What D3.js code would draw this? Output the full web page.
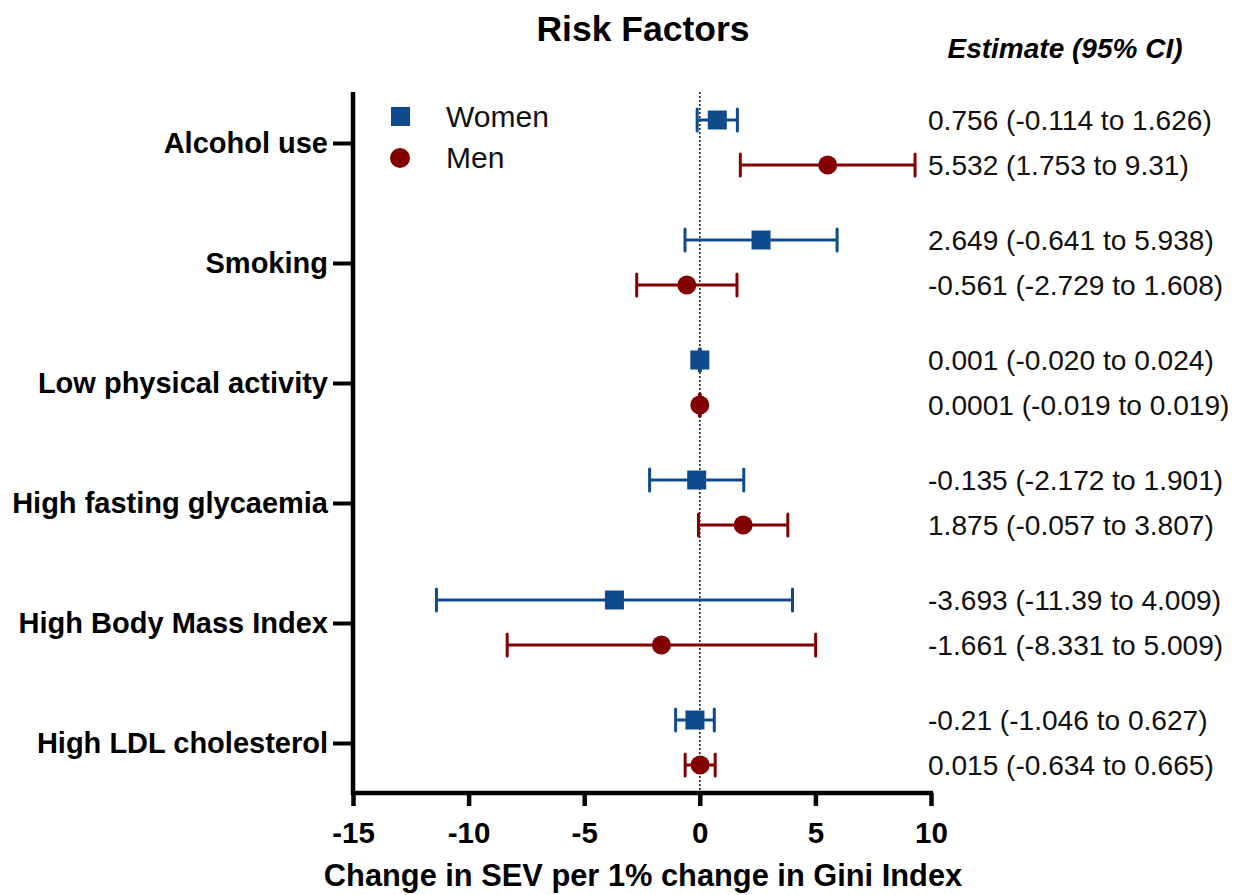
<!DOCTYPE html>
<html><head><meta charset="utf-8">
<script src="https://cdn.jsdelivr.net/npm/d3@7"></script>
<style>body{margin:0;background:#fff}svg{display:block}text{font-family:"Liberation Sans",Arial,sans-serif}</style>
</head><body><svg id="c" width="1235" height="895"></svg>
<script>
const categories=["Alcohol use","Smoking","Low physical activity","High fasting glycaemia","High Body Mass Index","High LDL cholesterol"];
const womenEst=[0.756,2.649,0.001,-0.135,-3.693,-0.21];
const womenLo=[-0.114,-0.641,-0.020,-2.172,-11.39,-1.046];
const womenHi=[1.626,5.938,0.024,1.901,4.009,0.627];
const menEst=[5.532,-0.561,0.0001,1.875,-1.661,0.015];
const menLo=[1.753,-2.729,-0.019,-0.057,-8.331,-0.634];
const menHi=[9.31,1.608,0.019,3.807,5.009,0.665];
const womenLabels=["0.756 (-0.114 to 1.626)","2.649 (-0.641 to 5.938)","0.001 (-0.020 to 0.024)","-0.135 (-2.172 to 1.901)","-3.693 (-11.39 to 4.009)","-0.21 (-1.046 to 0.627)"];
const menLabels=["5.532 (1.753 to 9.31)","-0.561 (-2.729 to 1.608)","0.0001 (-0.019 to 0.019)","1.875 (-0.057 to 3.807)","-1.661 (-8.331 to 5.009)","0.015 (-0.634 to 0.665)"];
const xTicks=[-15,-10,-5,0,5,10];
const xTickLabels=["-15","-10","-5","0","5","10"];
const seriesNames=["Women","Men"];

const svg=d3.select("#c");
const x=d3.scaleLinear().domain([-15,10]).range([353,931]);
const y=d3.scalePoint().domain(categories).range([83,803]).padding(0.5);
const off={Women:-23,Men:22};
const col={Women:"#0e4a8c",Men:"#820000"};
const plotTop=92,plotBottom=793;

svg.append("text").attr("x",643).attr("y",41).attr("text-anchor","middle").attr("font-size",35.5).attr("font-weight","bold").text("Risk Factors");
svg.append("text").attr("x",1065).attr("y",58).attr("text-anchor","middle").attr("font-size",28).attr("font-weight","bold").attr("font-style","italic").text("Estimate (95% CI)");

svg.append("line").attr("x1",x(0)).attr("x2",x(0)).attr("y1",plotTop).attr("y2",plotBottom).attr("stroke","#222").attr("stroke-width",1.6).attr("stroke-dasharray","2,2");

const ya=svg.append("g").attr("transform",`translate(${x(-15)},0)`).call(d3.axisLeft(y).tickSize(20).tickPadding(5));
ya.select(".domain").remove();
ya.selectAll(".tick line").attr("stroke","#000").attr("stroke-width",4);
ya.selectAll(".tick text").attr("font-size",29).attr("font-weight","bold").attr("fill","#000").attr("font-family","'Liberation Sans',Arial,sans-serif");
svg.append("line").attr("x1",x(-15)).attr("x2",x(-15)).attr("y1",plotTop).attr("y2",plotBottom+2).attr("stroke","#000").attr("stroke-width",4.5);

const xa=svg.append("g").attr("transform",`translate(0,${plotBottom})`).call(d3.axisBottom(x).tickValues(xTicks).tickFormat((d,i)=>xTickLabels[i]).tickSize(13).tickPadding(16).tickSizeOuter(0));
xa.select(".domain").remove();
xa.selectAll(".tick line").attr("stroke","#000").attr("stroke-width",4.5);
xa.selectAll(".tick text").attr("font-size",29.5).attr("font-weight","bold").attr("fill","#000").attr("font-family","'Liberation Sans',Arial,sans-serif");
svg.append("line").attr("x1",x(-15)-2).attr("x2",x(10)+2).attr("y1",plotBottom).attr("y2",plotBottom).attr("stroke","#000").attr("stroke-width",4.5);

svg.append("text").attr("x",643).attr("y",886).attr("text-anchor","middle").attr("font-size",30.8).attr("font-weight","bold").text("Change in SEV per 1% change in Gini Index");

const rows=[];
categories.forEach((c,i)=>{
  rows.push({s:"Women",c,e:womenEst[i],lo:womenLo[i],hi:womenHi[i],lab:womenLabels[i]});
  rows.push({s:"Men",c,e:menEst[i],lo:menLo[i],hi:menHi[i],lab:menLabels[i]});
});
const g=svg.append("g");
const cap=11;
rows.forEach(r=>{
  const yy=y(r.c)+off[r.s];
  const gg=g.append("g").attr("stroke",col[r.s]).attr("stroke-width",3);
  gg.append("line").attr("x1",x(r.lo)).attr("x2",x(r.hi)).attr("y1",yy).attr("y2",yy);
  gg.append("line").attr("x1",x(r.lo)).attr("x2",x(r.lo)).attr("y1",yy-cap).attr("y2",yy+cap).attr("stroke-linecap","round");
  gg.append("line").attr("x1",x(r.hi)).attr("x2",x(r.hi)).attr("y1",yy-cap).attr("y2",yy+cap).attr("stroke-linecap","round");
  if(r.s==="Women") g.append("rect").attr("x",x(r.e)-9.5).attr("y",yy-9.5).attr("width",19).attr("height",19).attr("fill",col[r.s]);
  else g.append("circle").attr("cx",x(r.e)).attr("cy",yy).attr("r",9.5).attr("fill",col[r.s]);
  svg.append("text").attr("x",928).attr("y",yy+10).attr("font-size",28.1).attr("fill","#111").text(r.lab);
});

const lg=svg.append("g");
lg.append("rect").attr("x",391).attr("y",107).attr("width",19).attr("height",19).attr("fill",col.Women);
lg.append("circle").attr("cx",400).attr("cy",158).attr("r",10).attr("fill",col.Men);
lg.append("text").attr("x",446).attr("y",127).attr("font-size",30).attr("fill","#111").text(seriesNames[0]);
lg.append("text").attr("x",446).attr("y",168).attr("font-size",30).attr("fill","#111").text(seriesNames[1]);
</script></body></html>
